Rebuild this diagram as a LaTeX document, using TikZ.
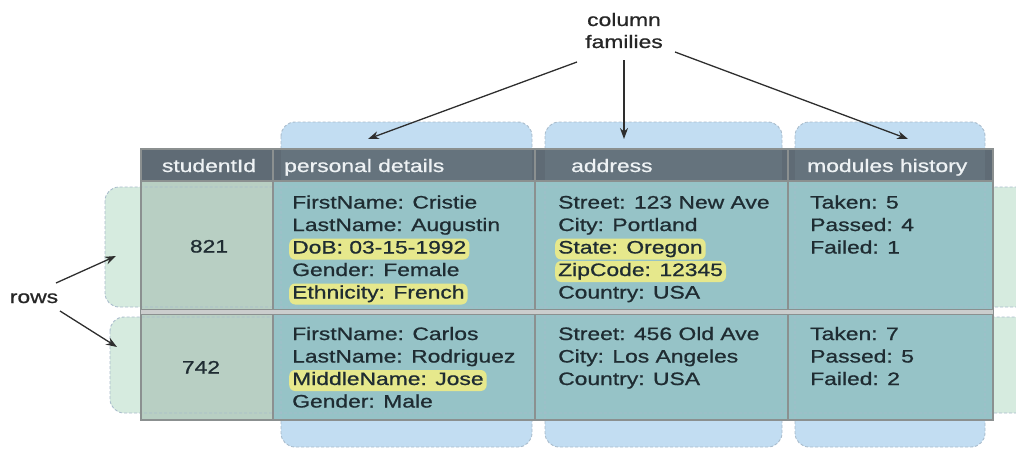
\documentclass[tikz,border=0pt]{standalone}
\usepackage{fontspec}
\usetikzlibrary{arrows.meta}
\newfontfamily\lsfam{Liberation Sans}[FakeStretch=1.27,FakeBold=0.9]
\newcommand\mycellfont{\lsfam\fontsize{18}{22}\selectfont}
\definecolor{greenblob}{HTML}{D6EBDF}
\definecolor{blueblob}{HTML}{C2DDF2}
\definecolor{dashcol}{HTML}{A9BCCC}
\definecolor{headercol}{HTML}{5F6B75}
\definecolor{idcell}{HTML}{B8CFC3}
\definecolor{famcell}{HTML}{96C3C7}
\definecolor{gridcol}{HTML}{8B9090}
\definecolor{hlcol}{HTML}{E6E88C}
\definecolor{textcol}{HTML}{1F2C32}
\definecolor{headtext}{HTML}{EEF2F4}
\definecolor{arrowcol}{HTML}{2E2E2E}
\tikzset{
  txt/.style={anchor=base west, inner xsep=3pt, inner ysep=2pt, text height=13pt, text depth=4pt, font=\mycellfont, text=textcol},
  hl/.style={txt, fill=hlcol, rounded corners=6pt},
  numtxt/.style={anchor=base, inner sep=2pt, font=\mycellfont, text=textcol},
  headtxt/.style={anchor=base west, inner sep=2pt, font=\mycellfont, text=headtext},
  labeltxt/.style={inner sep=2pt, font=\mycellfont, text=black!85, align=center},
  blobdash/.style={draw=dashcol, dash pattern=on 3pt off 2pt, line width=0.9pt},
  arr/.style={draw=arrowcol, line width=1.3pt, -{Stealth[length=11pt,width=8pt]}},
  grid/.style={draw=gridcol, line width=1.3pt}
}
\begin{document}
\begin{tikzpicture}[x=1pt,y=-1pt]
\useasboundingbox (0,0) rectangle (1016,452);
\clip (0,0) rectangle (1016,452);
% row blobs
\fill[greenblob, rounded corners=14pt] (105,187) rectangle (1040,307);
\fill[greenblob, rounded corners=14pt] (110,317) rectangle (1040,413);
% column family blobs
\fill[blueblob, rounded corners=14pt] (281,122) rectangle (532,447);
\fill[blueblob, rounded corners=14pt] (545,122) rectangle (782,447);
\fill[blueblob, rounded corners=14pt] (795,122) rectangle (985,447);
% table
\fill[idcell] (141,181) rectangle (273,420);
\fill[famcell] (273,181) rectangle (993,420);
% dashed outlines of blobs
\draw[blobdash, rounded corners=14pt] (105,187) rectangle (1040,307);
\draw[blobdash, rounded corners=14pt] (110,317) rectangle (1040,413);
\draw[blobdash, rounded corners=14pt] (281,122) rectangle (532,447);
\draw[blobdash, rounded corners=14pt] (545,122) rectangle (782,447);
\draw[blobdash, rounded corners=14pt] (795,122) rectangle (985,447);
% header drawn over dashes
\fill[headercol] (141,149) rectangle (993,181);
\fill[headercol!80!blueblob, opacity=0.35] (281,149) rectangle (532,181);
\fill[headercol!80!blueblob, opacity=0.35] (545,149) rectangle (782,181);
\fill[headercol!80!blueblob, opacity=0.35] (795,149) rectangle (985,181);
% grid
\draw[grid] (141,149) rectangle (993,420);
\draw[grid] (273,149) -- (273,420);
\draw[grid] (535,149) -- (535,420);
\draw[grid] (788,149) -- (788,420);
\draw[grid] (141,181) -- (993,181);
\fill[gridcol!45!white] (141,309) rectangle (993,314);
\draw[draw=gridcol, line width=0.9pt] (141,309) -- (993,309) (141,314) -- (993,314);
\draw[draw=gridcol, line width=2pt] (141,420) -- (993,420);
% header text
\node[numtxt, text=headtext] (hid) at (209,172) {studentId};
\node[headtxt] (hpd) at (282,172) {personal details};
\node[headtxt] (had) at (569,172) {address};
\node[headtxt] (hmh) at (805,172) {modules history};
% ids
\node[numtxt] (id1) at (209,252.5) {821};
\node[numtxt] (id2) at (201,373.5) {742};
% personal details row 1
\node[txt] (p1a) at (289,208.5) {FirstName: Cristie};
\node[txt] (p1b) at (289,231) {LastName: Augustin};
\node[hl]  (p1c) at (289,253.5) {DoB: 03-15-1992};
\node[txt] (p1d) at (289,276) {Gender: Female};
\node[hl]  (p1e) at (289,298.5) {Ethnicity: French};
% personal details row 2
\node[txt] (p2a) at (289,340) {FirstName: Carlos};
\node[txt] (p2b) at (289,362.5) {LastName: Rodriguez};
\node[hl]  (p2c) at (289,385) {MiddleName: Jose};
\node[txt] (p2d) at (289,407.5) {Gender: Male};
% address row 1
\node[txt] (a1a) at (555,208.5) {Street: 123 New Ave};
\node[txt] (a1b) at (555,231) {City: Portland};
\node[hl]  (a1c) at (555,253.5) {State: Oregon};
\node[hl]  (a1d) at (555,276) {ZipCode: 12345};
\node[txt] (a1e) at (555,298.5) {Country: USA};
% address row 2
\node[txt] (a2a) at (555,340) {Street: 456 Old Ave};
\node[txt] (a2b) at (555,362.5) {City: Los Angeles};
\node[txt] (a2c) at (555,385) {Country: USA};
% modules row 1
\node[txt] (m1a) at (807,208.5) {Taken: 5};
\node[txt] (m1b) at (807,231) {Passed: 4};
\node[txt] (m1c) at (807,253.5) {Failed: 1};
% modules row 2
\node[txt] (m2a) at (807,340) {Taken: 7};
\node[txt] (m2b) at (807,362.5) {Passed: 5};
\node[txt] (m2c) at (807,385) {Failed: 2};
% labels
\node[labeltxt, anchor=base] (cf1) at (624,26) {column};
\node[labeltxt, anchor=base] (cf2) at (624,48) {families};
\node[labeltxt, anchor=base] (rows) at (34,303) {rows};
% arrow endpoints
\coordinate (cfL) at (577,62);
\coordinate (cfM) at (624,60);
\coordinate (cfR) at (675,52);
\coordinate (tipP) at (368,139);
\coordinate (tipA) at (624,139);
\coordinate (tipM) at (908,139);
\coordinate (rowsA) at (56,283);
\coordinate (rowsB) at (60,311);
\coordinate (tipR1) at (116,256);
\coordinate (tipR2) at (117,347);
\draw[arr] (cfL) -- (tipP);
\draw[arr] (cfM) -- (tipA);
\draw[arr] (cfR) -- (tipM);
\draw[arr] (rowsA) -- (tipR1);
\draw[arr] (rowsB) -- (tipR2);
\end{tikzpicture}
\end{document}
